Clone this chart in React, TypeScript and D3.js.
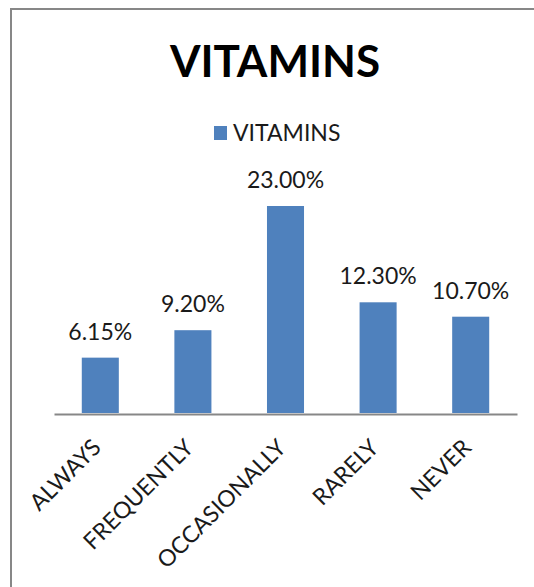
import React, {useRef, useEffect} from 'react'
import * as d3 from 'd3'

const chartTitle = 'VITAMINS'
const seriesName = 'VITAMINS'
const categories = ['ALWAYS', 'FREQUENTLY', 'OCCASIONALLY', 'RARELY', 'NEVER']
const vitamins = [6.15, 9.2, 23.0, 12.3, 10.7]
const valueLabels = ['6.15%', '9.20%', '23.00%', '12.30%', '10.70%']

const FONT = 'Lato, "Open Sans", sans-serif'
const BAR_COLOR = '#4F81BD'
const GRAY = '#878787'

export default function App() {
  const svgRef = useRef<SVGSVGElement>(null)

  useEffect(() => {
    const svg = d3.select(svgRef.current)
    svg.selectAll('*').remove()
    drawChart(svg)
  }, [])

  function drawChart(svg: any) {
    // chart frame (right and bottom edges fall outside the picture)
    svg
      .append('rect')
      .attr('x', 11)
      .attr('y', 9)
      .attr('width', 600)
      .attr('height', 700)
      .attr('fill', '#fff')
      .attr('stroke', GRAY)
      .attr('stroke-width', 2)

    svg
      .append('text')
      .attr('x', 275)
      .attr('y', 77)
      .attr('text-anchor', 'middle')
      .attr('font-family', FONT)
      .attr('font-weight', 'bold')
      .attr('font-size', 44)
      .attr('fill', '#000')
      .text(chartTitle)

    // legend
    const legend = svg.append('g')
    legend
      .append('rect')
      .attr('x', 214)
      .attr('y', 126)
      .attr('width', 13)
      .attr('height', 14)
      .attr('fill', BAR_COLOR)
    legend
      .append('text')
      .attr('x', 233)
      .attr('y', 141)
      .attr('font-family', FONT)
      .attr('font-size', 23)
      .attr('fill', '#1a1a1a')
      .text(seriesName)

    const data = categories.map((c, i) => ({cat: c, value: vitamins[i], label: valueLabels[i]}))

    const xScale = d3
      .scaleBand()
      .domain(categories)
      .range([54, 517])
      .paddingInner(0.6)
      .paddingOuter(0.3)

    const yScale = d3
      .scaleLinear()
      .domain([0, 25])
      .range([413, 188])

    svg
      .append('g')
      .selectAll('rect')
      .data(data)
      .join('rect')
      .attr('x', (d: any) => xScale(d.cat))
      .attr('y', (d: any) => yScale(d.value))
      .attr('width', xScale.bandwidth())
      .attr('height', (d: any) => yScale(0) - yScale(d.value))
      .attr('fill', BAR_COLOR)

    svg
      .append('g')
      .selectAll('text')
      .data(data)
      .join('text')
      .attr('x', (d: any) => xScale(d.cat)! + xScale.bandwidth() / 2)
      .attr('y', (d: any) => yScale(d.value) - 18)
      .attr('text-anchor', 'middle')
      .attr('font-family', FONT)
      .attr('font-size', 23)
      .attr('fill', '#1a1a1a')
      .text((d: any) => d.label)

    // category axis
    const xAxis = svg
      .append('g')
      .attr('transform', `translate(0, ${yScale(0) + 1})`)
      .call(d3.axisBottom(xScale).tickSize(0).tickSizeOuter(0).tickFormat(() => ''))
    xAxis
      .select('.domain')
      .attr('stroke', GRAY)
      .attr('stroke-width', 2)

    svg
      .append('g')
      .selectAll('text')
      .data(categories)
      .join('text')
      .attr('transform', (c: string) => {
        const cx = xScale(c)! + xScale.bandwidth() / 2 + 2
        return `translate(${cx}, ${yScale(0) + 36}) rotate(-45)`
      })
      .attr('text-anchor', 'end')
      .attr('font-family', FONT)
      .attr('font-size', 23)
      .attr('fill', '#1a1a1a')
      .text((c: string) => c)
  }

  return (
    <svg
      ref={svgRef}
      width={534}
      height={587}
      style={{position: 'absolute', left: 0, top: 0, background: '#fff'}}
    />
  )
}
